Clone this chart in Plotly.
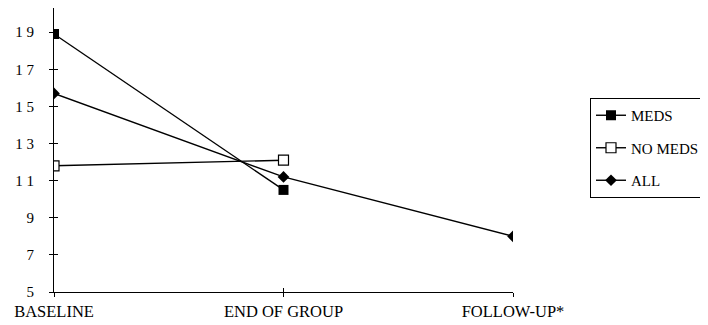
import plotly.graph_objects as go

categories = ["BASELINE", "END OF GROUP", "FOLLOW-UP*"]
x_pos = [0, 1, 2]
meds = [18.9, 10.5]
no_meds = [11.8, 12.1]
all_vals = [15.7, 11.2, 8.0]
y_ticks = [5, 7, 9, 11, 13, 15, 17, 19]
y_tick_text = ["5", "7", "9", "1 1", "1 3", "1 5", "1 7", "1 9"]

FONT = "Liberation Serif"
YR = [5, 20.3]
XR = [0, 2]

# page body has an 8px default margin, so the figure is sized/offset accordingly
W, H = 700, 317
L, R, T, B = 46, 195, 0, 33
PW = W - L - R
PH = H - T - B

fig = go.Figure()
fig.add_trace(go.Scatter(x=x_pos[:2], y=meds, name="MEDS", mode="lines+markers",
                         legendgroup="a",
                         line=dict(color="black", width=1.4),
                         marker=dict(symbol="square", size=10, color="black")))
fig.add_trace(go.Scatter(x=x_pos[:2], y=no_meds, name="NO MEDS", mode="lines+markers",
                         legendgroup="b",
                         line=dict(color="black", width=1.4),
                         marker=dict(symbol="square", size=10, color="white",
                                     line=dict(color="black", width=1.2))))
fig.add_trace(go.Scatter(x=x_pos, y=all_vals, name="ALL", mode="lines+markers",
                         legendgroup="c",
                         line=dict(color="black", width=1.4),
                         marker=dict(symbol="diamond", size=9, color="black")))
# invisible trace to anchor the overlay axes that give crossing ticks
fig.add_trace(go.Scatter(x=[x_pos[0]], y=[y_ticks[0]], xaxis="x2", yaxis="y2",
                         mode="markers", marker=dict(opacity=0), showlegend=False,
                         hoverinfo="skip"))

fig.update_layout(
    width=W, height=H,
    margin=dict(l=L, r=R, t=T, b=B, pad=0, autoexpand=False),
    paper_bgcolor="white", plot_bgcolor="white",
    font=dict(family=FONT, size=15, color="black"),
    showlegend=True,
    legend=dict(x=(582 - L) / PW, y=(PH + T - 90) / PH, xanchor="left", yanchor="top",
                bordercolor="black", borderwidth=1, bgcolor="white",
                font=dict(family=FONT, size=15, color="black"),
                itemwidth=30, tracegroupgap=10, traceorder="grouped"),
    xaxis=dict(range=XR, tickvals=x_pos, ticktext=categories, showgrid=False,
               zeroline=False, showline=True, linecolor="black", linewidth=1,
               ticks="outside", ticklen=4, tickcolor="black",
               tickfont=dict(family=FONT, size=16.5, color="black")),
    yaxis=dict(range=YR, tickvals=y_ticks, ticktext=y_tick_text, showgrid=False,
               zeroline=False, showline=True, linecolor="black", linewidth=1,
               ticks="outside", ticklen=4, tickcolor="black", ticklabelstandoff=12,
               tickfont=dict(family=FONT, size=15, color="black")),
    xaxis2=dict(range=XR, overlaying="x", anchor="y", tickvals=x_pos,
                showticklabels=False, showgrid=False, zeroline=False,
                ticks="inside", ticklen=4, tickcolor="black", side="bottom"),
    yaxis2=dict(range=YR, overlaying="y", anchor="x", tickvals=y_ticks,
                showticklabels=False, showgrid=False, zeroline=False,
                ticks="inside", ticklen=4, tickcolor="black", side="left"),
)

fig.write_html("out.html")
